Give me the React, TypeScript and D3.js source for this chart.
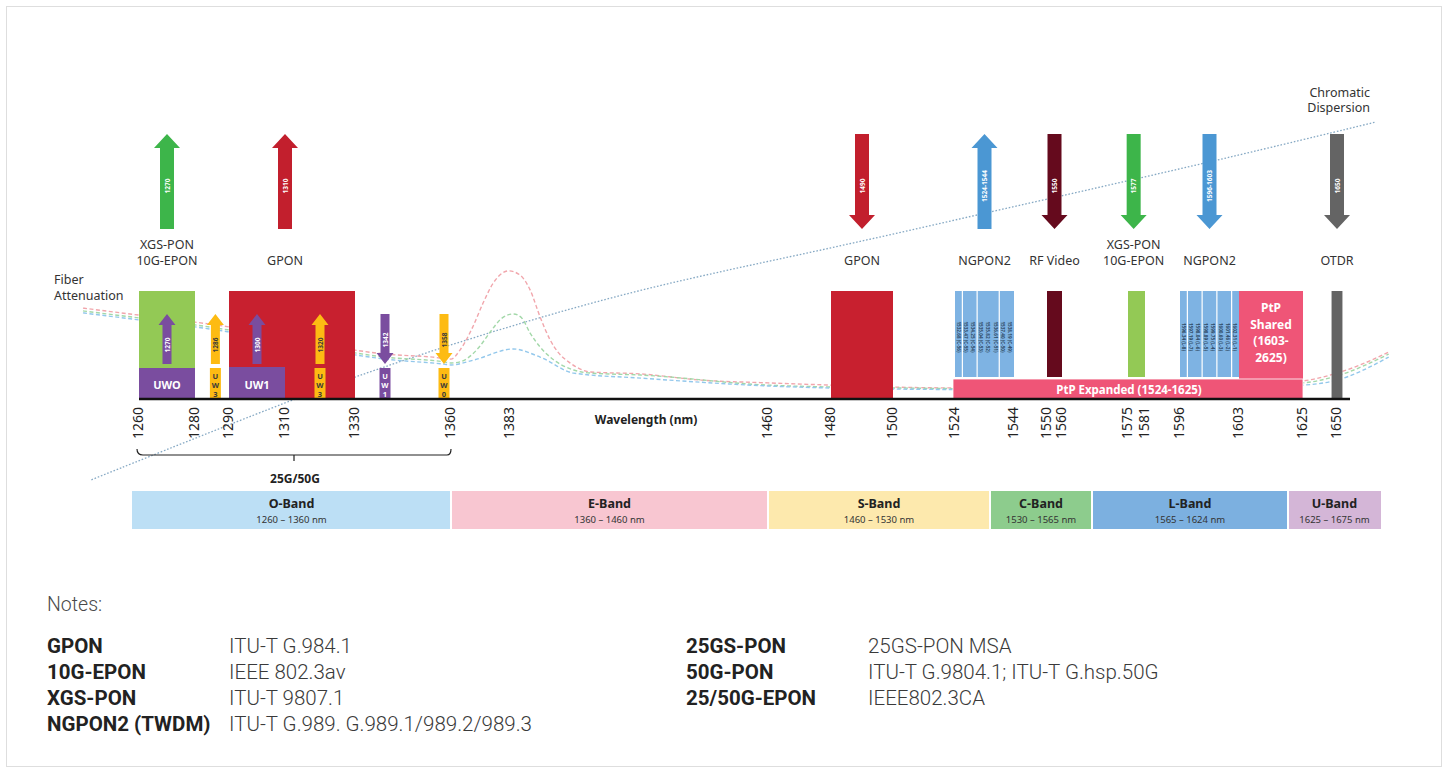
import React from 'react';
import * as d3 from 'd3';

const W = 1449;
const H = 773;

// Non-linear wavelength axis (breakpoints of the original drawing)
const axisDomain = [1260, 1280, 1290, 1310, 1330, 1342, 1358, 1360, 1383, 1460, 1480, 1500, 1524, 1544, 1550, 1560, 1575, 1581, 1596, 1603, 1625, 1650];
const axisRange = [139, 195, 229, 285, 355, 385, 444, 451, 510, 768, 831, 893, 955, 1014, 1047, 1062, 1128, 1145, 1180, 1239, 1303, 1337];

const tickLabels = [1260, 1280, 1290, 1310, 1330, 1360, 1383, 1460, 1480, 1500, 1524, 1544, 1550, 1560, 1575, 1581, 1596, 1603, 1625, 1650];

// Spectral bands
const bandNames = ['O-Band', 'E-Band', 'S-Band', 'C-Band', 'L-Band', 'U-Band'];
const bandRanges = ['1260 – 1360 nm', '1360 – 1460 nm', '1460 – 1530 nm', '1530 – 1565 nm', '1565 – 1624 nm', '1625 – 1675 nm'];
const bandEdges = [1260, 1360, 1460, 1530, 1565, 1625, 1675];
const bandColors = ['#bcdff5', '#f8c6d1', '#fde9ad', '#8dcc8d', '#7cb0e0', '#d4b6d7'];
const bandPixels = [132, 451, 768, 990, 1092, 1288, 1381];

// Top arrows (service wavelengths)
const topArrowWl = [1270, 1310, 1490, 1534, 1555, 1577, 1599.5, 1650];
const topArrowDir = ['up', 'up', 'down', 'up', 'down', 'down', 'down', 'down'];
const topArrowText = ['1270', '1310', '1490', '1524-1544', '1550', '1577', '1596-1603', '1650'];
const topArrowColor = ['#3db54a', '#c21f2d', '#c21f2d', '#4b97d3', '#650a1d', '#3db54a', '#4b97d3', '#646464'];
const topArrowLabel = [['XGS-PON', '10G-EPON'], ['GPON'], ['GPON'], ['NGPON2'], ['RF Video'], ['XGS-PON', '10G-EPON'], ['NGPON2'], ['OTDR']];

// Small arrows for 25G/50G wavelengths
const smallArrowWl = [1270, 1286, 1300, 1320, 1342, 1358];
const smallArrowDir = ['up', 'up', 'up', 'up', 'down', 'down'];
const smallArrowColor = ['#7a4d9f', '#fdbb13', '#7a4d9f', '#fdbb13', '#7a4d9f', '#fdbb13'];
const smallBoxWl = [1286, 1320, 1342, 1358];
const smallBoxText = ['UW3', 'UW3', 'UW1', 'UW0'];
const smallBoxColor = ['#fdbb13', '#fdbb13', '#7a4d9f', '#fdbb13'];

// Blocks
const blockFrom = [1260, 1290, 1480, 1550, 1575, 1603, 1646];
const blockTo = [1280, 1330, 1500, 1560, 1581, 1625, 1654];
const blockColor = ['#93c955', '#c8202f', '#c8202f', '#650a1d', '#93c955', '#ef5577', '#646464'];
const blockTall = [true, true, true, false, false, false, true];

// NGPON2 TWDM channels
const ngUpFrom = 1524, ngUpTo = 1544;
const ngUpChannels = ['1532.68 (C-56)', '1533.47 (C-55)', '1534.25 (C-54)', '1535.04 (C-53)', '1535.82 (C-52)', '1536.61 (C-51)', '1537.40 (C-50)', '1538.19 (C-49)'];
const ngUpGroups = [1, 2, 3, 2];
const ngDnFrom = 1596, ngDnTo = 1603;
const ngDnChannels = ['1596.34 (L-8)', '1597.19 (L-7)', '1598.04 (L-6)', '1598.89 (L-5)', '1599.75 (L-4)', '1600.60 (L-3)', '1601.46 (L-2)', '1602.31 (L-1)'];
const ngDnGroups = [1, 2, 2, 2, 1];

// Fiber attenuation curves (dB/km)
const attPinkWl = [1240, 1260, 1280, 1290, 1310, 1330, 1342, 1355, 1360, 1363.5, 1368.5, 1372.5, 1376.5, 1380, 1382.5, 1386, 1389, 1392, 1395, 1397.5, 1400.5, 1407, 1422, 1440, 1460, 1480, 1500, 1524, 1550, 1575, 1596, 1603, 1625, 1650, 1667, 1688];
const attPinkDb = [0.471, 0.446, 0.421, 0.404, 0.371, 0.321, 0.307, 0.296, 0.289, 0.321, 0.404, 0.489, 0.561, 0.596, 0.604, 0.589, 0.536, 0.439, 0.357, 0.311, 0.279, 0.243, 0.236, 0.214, 0.204, 0.196, 0.189, 0.186, 0.186, 0.186, 0.189, 0.196, 0.211, 0.239, 0.268, 0.314];
const attGreenWl = [1240, 1260, 1280, 1290, 1310, 1330, 1342, 1358, 1360, 1363.5, 1371, 1375, 1380, 1384, 1386.5, 1389, 1392, 1395, 1402, 1407, 1422, 1460, 1500, 1550, 1596, 1625, 1650, 1688];
const attGreenDb = [0.461, 0.436, 0.411, 0.393, 0.361, 0.311, 0.296, 0.279, 0.275, 0.279, 0.332, 0.382, 0.436, 0.45, 0.436, 0.382, 0.332, 0.296, 0.25, 0.239, 0.232, 0.196, 0.186, 0.182, 0.186, 0.204, 0.229, 0.307];
const attBlueWl = [1240, 1260, 1280, 1290, 1310, 1330, 1342, 1358, 1360, 1369, 1384, 1392, 1402, 1422, 1460, 1500, 1550, 1596, 1625, 1650, 1688];
const attBlueDb = [0.454, 0.429, 0.404, 0.386, 0.354, 0.304, 0.289, 0.271, 0.268, 0.286, 0.325, 0.296, 0.239, 0.221, 0.193, 0.182, 0.179, 0.182, 0.196, 0.214, 0.296];

// Chromatic dispersion ps/(nm·km)
const dispWl = [1243, 1305, 1329, 1367, 1422, 1477, 1539, 1598, 1678];
const dispVal = [-6.4, -0.4, 2.1, 5.4, 9.6, 12.7, 16.1, 19.8, 23.4];

// Notes
const notesLeftKey = ['GPON', '10G-EPON', 'XGS-PON', 'NGPON2 (TWDM)'];
const notesLeftVal = ['ITU-T G.984.1', 'IEEE 802.3av', 'ITU-T 9807.1', 'ITU-T G.989. G.989.1/989.2/989.3'];
const notesRightKey = ['25GS-PON', '50G-PON', '25/50G-EPON'];
const notesRightVal = ['25GS-PON MSA', 'ITU-T G.9804.1; ITU-T G.hsp.50G', 'IEEE802.3CA'];

const FONT = "'Noto Sans', 'Open Sans', sans-serif";
const NOTE_FONT = "Roboto, 'Liberation Sans', sans-serif";

function arrowPath(cx: number, yTop: number, yBot: number, dir: string, sw: number, hw: number, hl: number) {
  const p = d3.path();
  if (dir === 'up') {
    p.moveTo(cx, yTop);
    p.lineTo(cx + hw / 2, yTop + hl);
    p.lineTo(cx + sw / 2, yTop + hl);
    p.lineTo(cx + sw / 2, yBot);
    p.lineTo(cx - sw / 2, yBot);
    p.lineTo(cx - sw / 2, yTop + hl);
    p.lineTo(cx - hw / 2, yTop + hl);
  } else {
    p.moveTo(cx, yBot);
    p.lineTo(cx + hw / 2, yBot - hl);
    p.lineTo(cx + sw / 2, yBot - hl);
    p.lineTo(cx + sw / 2, yTop);
    p.lineTo(cx - sw / 2, yTop);
    p.lineTo(cx - sw / 2, yBot - hl);
    p.lineTo(cx - hw / 2, yBot - hl);
  }
  p.closePath();
  return p.toString();
}

export default function App() {
  const x = d3.scaleLinear().domain(axisDomain).range(axisRange);
  const xb = d3.scaleLinear().domain(bandEdges).range(bandPixels);
  const yAtt = d3.scaleLinear().domain([0.15, 0.65]).range([398, 258]);
  const yDisp = d3.scaleLinear().domain([0, 17]).range([403, 199]);

  const axisY = 399;
  const tallTop = 291;
  const shortBottom = 377;

  const attLine = d3.line<[number, number]>().x(d => x(d[0])).y(d => yAtt(d[1])).curve(d3.curveMonotoneX);
  const dispLine = d3.line<[number, number]>().x(d => x(d[0])).y(d => yDisp(d[1])).curve(d3.curveBasis);

  const curves = [
    { wl: attPinkWl, v: attPinkDb, c: '#f1a6ac' },
    { wl: attGreenWl, v: attGreenDb, c: '#a3d8a9' },
    { wl: attBlueWl, v: attBlueDb, c: '#93c8ec' },
  ];

  const renderChannels = (from: number, to: number, labels: string[], groups: number[], key: string) => {
    const x0 = x(from), x1 = x(to);
    const cw = (x1 - x0) / labels.length;
    const out: any[] = [];
    let idx = 0;
    groups.forEach((g, gi) => {
      const gx0 = x0 + idx * cw;
      const gx1 = x0 + (idx + g) * cw;
      out.push(<rect key={key + 'g' + gi} x={gx0 + (gi === 0 ? 0 : 0.6)} y={tallTop} width={gx1 - gx0 - (gi === 0 ? 0 : 0.6) - (gi === groups.length - 1 ? 0 : 0.6)} height={shortBottom - tallTop} fill="#7eb3e3" />);
      idx += g;
    });
    labels.forEach((l, i) => {
      const cx = x0 + (i + 0.5) * cw;
      out.push(
        <text key={key + 't' + i} transform={`translate(${cx},${337}) rotate(90)`} textAnchor="middle" dominantBaseline="central" fontSize={4.6} fontFamily={FONT} fontWeight={700} fill="#2f4b66">{l}</text>
      );
    });
    return out;
  };

  return (
    <svg width={W} height={H} style={{ position: 'absolute', left: 0, top: 0, background: '#fff' }} fontFamily={FONT}>
      <rect x={6.5} y={6.5} width={1435} height={760} fill="#fff" stroke="#dedede" strokeWidth={1} />

      {/* Chromatic dispersion */}
      <path d={dispLine(dispWl.map((w, i) => [w, dispVal[i]]) as any) || ''} fill="none" stroke="#86a9c4" strokeWidth={1.3} strokeDasharray="1.6,1.8" />
      <text x={1370} y={97} textAnchor="end" fontSize={12.5} fill="#333">Chromatic</text>
      <text x={1370} y={112} textAnchor="end" fontSize={12.5} fill="#333">Dispersion</text>

      {/* Fiber attenuation */}
      {curves.map((c, i) => (
        <path key={'att' + i} d={attLine(c.wl.map((w, j) => [w, c.v[j]]) as any) || ''} fill="none" stroke={c.c} strokeWidth={1.4} strokeDasharray="4,2.5" />
      ))}
      <text x={54} y={284} fontSize={12.5} fill="#333">Fiber</text>
      <text x={54} y={300} fontSize={12.5} fill="#333">Attenuation</text>

      {/* Top arrows */}
      {topArrowWl.map((w, i) => {
        const cx = x(w);
        return (
          <g key={'ta' + i}>
            <path d={arrowPath(cx, 134, 229, topArrowDir[i], 14, 26, 14)} fill={topArrowColor[i]} />
            <text transform={`translate(${cx},186) rotate(-90)`} textAnchor="middle" dominantBaseline="central" fontSize={6.5} fontWeight={700} fill="#fff">{topArrowText[i]}</text>
            {topArrowLabel[i].map((l, j) => (
              <text key={j} x={cx} y={topArrowLabel[i].length === 2 ? 249 + j * 16 : 265} textAnchor="middle" fontSize={12.5} fill="#333">{l}</text>
            ))}
          </g>
        );
      })}

      {/* Blocks */}
      {blockFrom.map((f, i) => (
        <rect key={'b' + i} x={x(f)} y={tallTop} width={x(blockTo[i]) - x(f)} height={(blockTall[i] ? axisY : shortBottom + (i === 5 ? 2 : 0)) - tallTop} fill={blockColor[i]} />
      ))}

      {/* NGPON2 channels */}
      {renderChannels(ngUpFrom, ngUpTo, ngUpChannels, ngUpGroups, 'up')}
      {renderChannels(ngDnFrom, ngDnTo, ngDnChannels, ngDnGroups, 'dn')}

      {/* PtP labels */}
      <rect x={x(1524) - 2} y={379} width={x(1625) - x(1524) + 2} height={axisY - 379} fill="#ef5577" stroke="#fff" strokeWidth={0.8} />
      <text x={(x(1524) + x(1625)) / 2} y={389} textAnchor="middle" dominantBaseline="central" fontSize={11.5} fontWeight={700} fill="#fff">PtP Expanded (1524-1625)</text>
      {['PtP', 'Shared', '(1603-', '2625)'].map((t, i) => (
        <text key={'ps' + i} x={(x(1603) + x(1625)) / 2} y={312 + i * 16.5} textAnchor="middle" fontSize={12} fontWeight={700} fill="#fff">{t}</text>
      ))}

      {/* UWO / UW1 boxes */}
      <rect x={x(1260)} y={368} width={x(1280) - x(1260)} height={axisY - 368} fill="#7a4d9f" />
      <text x={(x(1260) + x(1280)) / 2} y={384} textAnchor="middle" dominantBaseline="central" fontSize={11} fontWeight={700} fill="#fff">UWO</text>
      <rect x={x(1290)} y={367} width={x(1310) - x(1290)} height={axisY - 367} fill="#7a4d9f" />
      <text x={(x(1290) + x(1310)) / 2} y={384} textAnchor="middle" dominantBaseline="central" fontSize={11} fontWeight={700} fill="#fff">UW1</text>

      {/* small arrows */}
      {smallArrowWl.map((w, i) => {
        const cx = x(w);
        const dark = smallArrowColor[i] === '#fdbb13';
        return (
          <g key={'sa' + i}>
            <path d={arrowPath(cx, 314, 364, smallArrowDir[i], 9, 17, 11)} fill={smallArrowColor[i]} />
            <text transform={`translate(${cx},${smallArrowDir[i] === 'up' ? 345 : 340}) rotate(-90)`} textAnchor="middle" dominantBaseline="central" fontSize={6.5} fontWeight={700} fill={dark ? '#3a3a3a' : '#fff'}>{w}</text>
          </g>
        );
      })}
      {smallBoxWl.map((w, i) => {
        const cx = x(w);
        const dark = smallBoxColor[i] === '#fdbb13';
        return (
          <g key={'sb' + i}>
            <rect x={cx - 5.5} y={368} width={11} height={axisY - 368} fill={smallBoxColor[i]} />
            {smallBoxText[i].split('').map((ch, j) => (
              <text key={j} x={cx} y={375.5 + j * 9} textAnchor="middle" dominantBaseline="central" fontSize={7.5} fontWeight={700} fill={dark ? '#3a3a3a' : '#fff'}>{ch}</text>
            ))}
          </g>
        );
      })}

      {/* axis */}
      <line x1={x(1260)} x2={1350} y1={axisY} y2={axisY} stroke="#111" strokeWidth={2.6} />
      {tickLabels.map(t => (
        <text key={'tk' + t} transform={`translate(${x(t) - 2},${407}) rotate(-90)`} textAnchor="end" dominantBaseline="central" fontSize={14} fill="#222">{t}</text>
      ))}
      <text x={646} y={419} textAnchor="middle" dominantBaseline="central" fontSize={12} fontWeight={700} fill="#222">Wavelength (nm)</text>

      {/* 25G/50G bracket */}
      <path d={`M${x(1260) - 2},449 Q${x(1260) - 2},455 ${x(1260) + 4},455 L${x(1360) - 4},455 Q${x(1360)},455 ${x(1360)},449 M${(x(1260) + x(1360)) / 2 - 1},455 L${(x(1260) + x(1360)) / 2 - 1},461`} fill="none" stroke="#222" strokeWidth={1.2} />
      <text x={(x(1260) + x(1360)) / 2} y={478} textAnchor="middle" dominantBaseline="central" fontSize={12} fontWeight={700} fill="#222">25G/50G</text>

      {/* bands */}
      {bandNames.map((b, i) => {
        const b0 = xb(bandEdges[i]);
        const b1 = xb(bandEdges[i + 1]);
        return (
          <g key={'band' + i}>
            <rect x={b0 + (i === 0 ? 0 : 1)} y={491} width={b1 - b0 - (i === 0 ? 1 : 2) + (i === bandNames.length - 1 ? 1 : 0)} height={38} fill={bandColors[i]} />
            <text x={(b0 + b1) / 2} y={503} textAnchor="middle" dominantBaseline="central" fontSize={12.5} fontWeight={700} fill="#222">{b}</text>
            <text x={(b0 + b1) / 2} y={519} textAnchor="middle" dominantBaseline="central" fontSize={9.5} fill="#333">{bandRanges[i]}</text>
          </g>
        );
      })}

      {/* notes */}
      <text x={47} y={611} fontSize={19.5} fontWeight={300} fill="#4a4a4a" fontFamily={NOTE_FONT}>Notes:</text>
      {notesLeftKey.map((k, i) => (
        <g key={'nl' + i} fontFamily={NOTE_FONT}>
          <text x={47} y={652.5 + i * 26} fontSize={20.5} fontWeight={700} fill="#222">{k}</text>
          <text x={229} y={652.5 + i * 26} fontSize={20.5} fontWeight={300} fill="#3a3a3a">{notesLeftVal[i]}</text>
        </g>
      ))}
      {notesRightKey.map((k, i) => (
        <g key={'nr' + i} fontFamily={NOTE_FONT}>
          <text x={686} y={652.5 + i * 26} fontSize={20.5} fontWeight={700} fill="#222">{k}</text>
          <text x={868} y={652.5 + i * 26} fontSize={20.5} fontWeight={300} fill="#3a3a3a">{notesRightVal[i]}</text>
        </g>
      ))}
    </svg>
  );
}
